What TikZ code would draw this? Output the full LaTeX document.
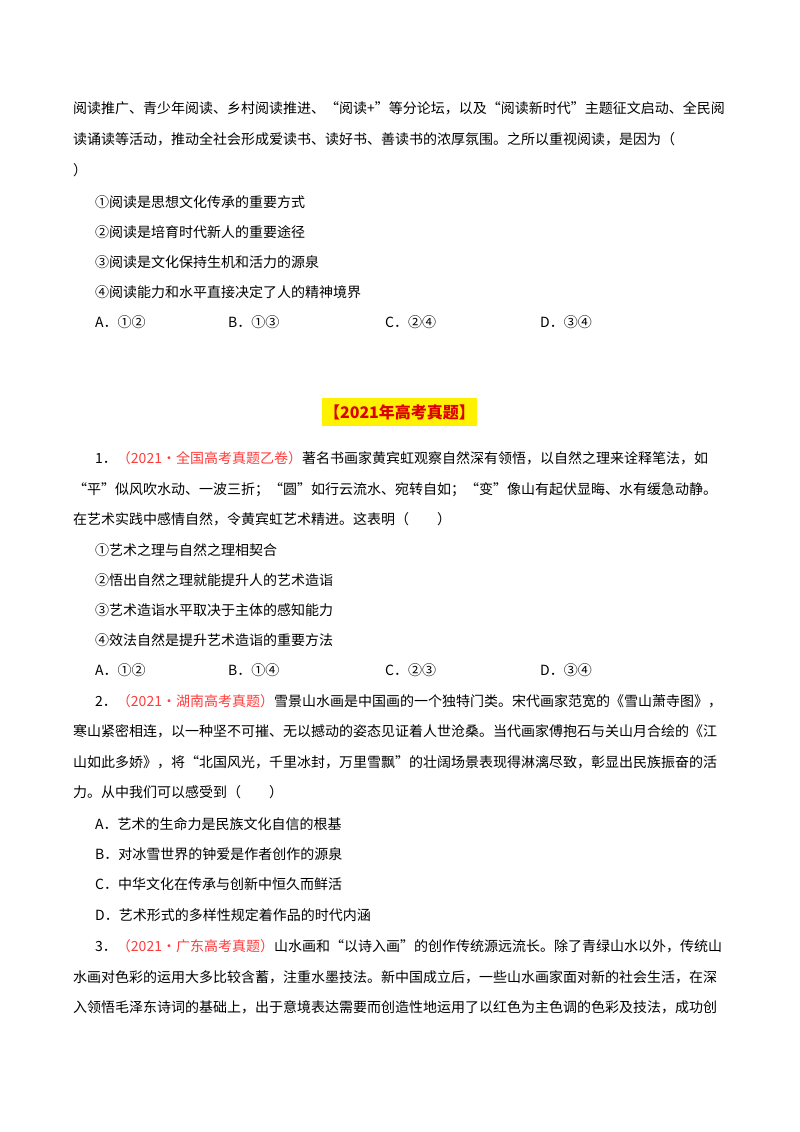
\documentclass[tikz,border=0pt]{standalone}
\usepackage{fontspec}
\setmainfont{Noto Sans CJK SC}
\definecolor{qred}{RGB}{255,60,60}
\definecolor{tred}{RGB}{220,0,0}
\begin{document}
\begin{tikzpicture}[x=1pt,y=1pt,
  t/.style={anchor=base west,inner sep=0,font=\fontsize{14}{14}\selectfont}]
\useasboundingbox[fill=white] (0,0) rectangle (800,-1132);
\node[t] (l1) at (73,-113) {阅读推广、青少年阅读、乡村阅读推进、“阅读+”等分论坛，以及“阅读新时代”主题征文启动、全民阅};
\node[t] (l2) at (73,-144) {读诵读等活动，推动全社会形成爱读书、读好书、善读书的浓厚氛围。之所以重视阅读，是因为（};
\node[t] (l3) at (73,-175) {）};
\node[t] (a1) at (95,-207) {①阅读是思想文化传承的重要方式};
\node[t] (a2) at (95,-237) {②阅读是培育时代新人的重要途径};
\node[t] (a3) at (95,-267) {③阅读是文化保持生机和活力的源泉};
\node[t] (a4) at (95,-297) {④阅读能力和水平直接决定了人的精神境界};
\node[t] (oa) at (95,-327) {A．①②};
\node[t] (ob) at (228,-327) {B．①③};
\node[t] (oc) at (385,-327) {C．②④};
\node[t] (od) at (540,-327) {D．③④};
\fill[yellow] (322,-398) rectangle (477,-426);
\node[font=\fontsize{16}{16}\selectfont\bfseries,text=tred,inner sep=0] (title) at (399.5,-412) {【2021年高考真题】};
\node[t] (q1) at (95,-463) {1．\textcolor{qred}{（2021·全国高考真题乙卷）}著名书画家黄宾虹观察自然深有领悟，以自然之理来诠释笔法，如};
\node[t] (q1b) at (73,-494) {“平”似风吹水动、一波三折；“圆”如行云流水、宛转自如；“变”像山有起伏显晦、水有缓急动静。};
\node[t] (q1c) at (73,-524) {在艺术实践中感情自然，令黄宾虹艺术精进。这表明（\quad\quad）};
\node[t] (b1) at (95,-555) {①艺术之理与自然之理相契合};
\node[t] (b2) at (95,-585) {②悟出自然之理就能提升人的艺术造诣};
\node[t] (b3) at (95,-615) {③艺术造诣水平取决于主体的感知能力};
\node[t] (b4) at (95,-645) {④效法自然是提升艺术造诣的重要方法};
\node[t] (pa) at (95,-675) {A．①②};
\node[t] (pb) at (228,-675) {B．①④};
\node[t] (pc) at (385,-675) {C．②③};
\node[t] (pd) at (540,-675) {D．③④};
\node[t] (q2) at (95,-706) {2．\textcolor{qred}{（2021·湖南高考真题）}雪景山水画是中国画的一个独特门类。宋代画家范宽的《雪山萧寺图》，};
\node[t] (q2b) at (73,-736) {寒山紧密相连，以一种坚不可摧、无以撼动的姿态见证着人世沧桑。当代画家傅抱石与关山月合绘的《江};
\node[t] (q2c) at (73,-767) {山如此多娇》，将“北国风光，千里冰封，万里雪飘”的壮阔场景表现得淋漓尽致，彰显出民族振奋的活};
\node[t] (q2d) at (73,-797) {力。从中我们可以感受到（\quad\quad）};
\node[t] (c1) at (95,-829) {A．艺术的生命力是民族文化自信的根基};
\node[t] (c2) at (95,-859) {B．对冰雪世界的钟爱是作者创作的源泉};
\node[t] (c3) at (95,-889) {C．中华文化在传承与创新中恒久而鲜活};
\node[t] (c4) at (95,-920) {D．艺术形式的多样性规定着作品的时代内涵};
\node[t] (q3) at (95,-951) {3．\textcolor{qred}{（2021·广东高考真题）}山水画和“以诗入画”的创作传统源远流长。除了青绿山水以外，传统山};
\node[t] (q3b) at (73,-982) {水画对色彩的运用大多比较含蓄，注重水墨技法。新中国成立后，一些山水画家面对新的社会生活，在深};
\node[t] (q3c) at (73,-1012) {入领悟毛泽东诗词的基础上，出于意境表达需要而创造性地运用了以红色为主色调的色彩及技法，成功创};
\end{tikzpicture}
\end{document}
